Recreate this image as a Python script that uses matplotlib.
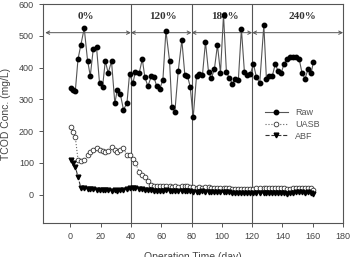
import matplotlib
matplotlib.use("Agg")
import matplotlib.pyplot as plt

plt.rcParams.update({
    "font.family": ["Liberation Sans", "DejaVu Sans"],
    "font.size": 7,
    "axes.linewidth": 0.8,
    "axes.edgecolor": "#555555",
    "xtick.color": "#555555",
    "ytick.color": "#555555",
    "xtick.labelcolor": "#444444",
    "ytick.labelcolor": "#444444",
})

# sampling days (shared by the three series)
days = [0.7, 1.8, 3.3, 5.1, 7.0, 9.2, 11.4, 13.2, 15.2, 17.3,
        19.3, 21.3, 23.1, 25, 27.2, 29.4, 31, 33, 35.1, 37.4,
        39.1, 41.3, 43, 45.5, 47.5, 49.2, 51.2, 53.4, 55.2, 56.9,
        59.1, 61.1, 63.1, 65.5, 67, 69, 71.2, 73.6, 75.6, 77.3,
        79.1, 81.1, 83.3, 85.2, 87.2, 89.2, 91.2, 93.1, 95.1, 97.1,
        99.1, 101.1, 103, 105, 107, 109, 110.9, 112.9, 114.9, 116.9,
        118.9, 120.8, 122.8, 125, 127.7, 129.4, 131.2, 133.2, 135.3, 137.1,
        139.1, 141.1, 143.1, 145, 147, 149, 151, 152.9, 154.9, 156.9,
        158.9, 160.4]

raw = [335, 330, 325, 427, 472, 524, 422, 374, 460, 465,
       351, 339, 421, 383, 420, 288, 329, 317, 267, 288,
       380, 351, 387, 383, 427, 370, 341, 372, 370, 343,
       334, 361, 516, 421, 276, 261, 388, 487, 376, 374,
       340, 243, 374, 380, 376, 481, 386, 366, 396, 471,
       383, 566, 387, 366, 349, 365, 362, 522, 385, 378,
       380, 412, 370, 351, 534, 364, 372, 372, 412, 388,
       383, 412, 427, 433, 433, 433, 427, 383, 365, 396,
       383, 417]

uasb = [212, 196, 181, 110, 106, 108, 126, 135, 141, 147,
        141, 136, 135, 137, 150, 141, 135, 141, 147, 123,
        123, 113, 100, 71, 63, 56, 42, 31, 27, 27,
        28, 26, 28, 26, 25, 26, 25, 27, 28, 26,
        25, 23, 22, 23, 22, 23, 24, 22, 21, 22,
        21, 20, 21, 20, 18, 17, 18, 17, 18, 16,
        17, 18, 19, 20, 19, 20, 19, 20, 21, 20,
        19, 20, 18, 17, 19, 20, 21, 20, 21, 20,
        19, 15]

abf = [110, 100, 88, 55, 21, 19, 18, 17, 16, 15,
       14, 14, 13, 13, 12, 13, 12, 13, 15, 17,
       20, 22, 19, 17, 16, 15, 14, 13, 12, 12,
       11, 12, 13, 12, 11, 12, 11, 12, 11, 12,
       10, 9, 8, 9, 10, 9, 8, 9, 8, 9,
       8, 7, 8, 7, 6, 6, 5, 6, 5, 4,
       5, 4, 5, 6, 5, 4, 5, 4, 6, 5,
       4, 5, 3, 4, 6, 7, 8, 7, 6, 7,
       5, 2]

# operating phases
phase_bounds = [-16.5, 40, 80, 120, 180]
phase_labels = ["0%", "120%", "180%", "240%"]
phase_label_x = [10, 61, 102, 153]

fig = plt.figure(figsize=(3.51, 2.57), dpi=100)
ax = fig.add_axes([0.1225, 0.132, 0.855, 0.852])

ax.plot(days, raw, "-", color="#555555", lw=0.8, marker="o", ms=3.2,
        mfc="black", mec="black", label="Raw", zorder=4)
ax.plot(days, uasb, ":", color="#666666", lw=0.8, marker="o", ms=3.4,
        mfc="white", mec="#333333", mew=0.6, label="UASB", zorder=3)
ax.plot(days, abf, "--", color="#333333", lw=0.8, marker="v", ms=3.4,
        mfc="black", mec="black", label="ABF", zorder=3)

for b in phase_bounds[1:-1]:
    ax.axvline(b, color="#555555", lw=0.8, zorder=1)

for x0, x1 in zip(phase_bounds[:-1], phase_bounds[1:]):
    ax.annotate("", xy=(x0, 510), xytext=(x1, 510),
                arrowprops=dict(arrowstyle="<->", color="#555555", lw=0.7,
                                shrinkA=0, shrinkB=0,
                                mutation_scale=6))

for lx, lab in zip(phase_label_x, phase_labels):
    ax.text(lx, 562, lab, ha="center", va="center", fontsize=8,
            fontweight="bold", family="Liberation Serif", color="#333333",
            zorder=2)

ax.set_xlim(-18, 180)
ax.set_ylim(-90, 600)
ax.set_xticks(range(0, 181, 20))
ax.set_yticks(range(0, 601, 100))
ax.tick_params(labelsize=6.5, length=3, width=0.7)
ax.set_xlabel("Operation Time (day)", fontsize=7.5, color="#444444", labelpad=8)
ax.set_ylabel("TCOD Conc. (mg/L)", fontsize=7.5, color="#444444", labelpad=6)

leg = ax.legend(loc="lower right", bbox_to_anchor=(0.95, 0.34), frameon=False,
                fontsize=6.5, handlelength=2.6, labelspacing=0.3)
for t in leg.get_texts():
    t.set_color("#555555")

fig.savefig("out.png", dpi=100)
